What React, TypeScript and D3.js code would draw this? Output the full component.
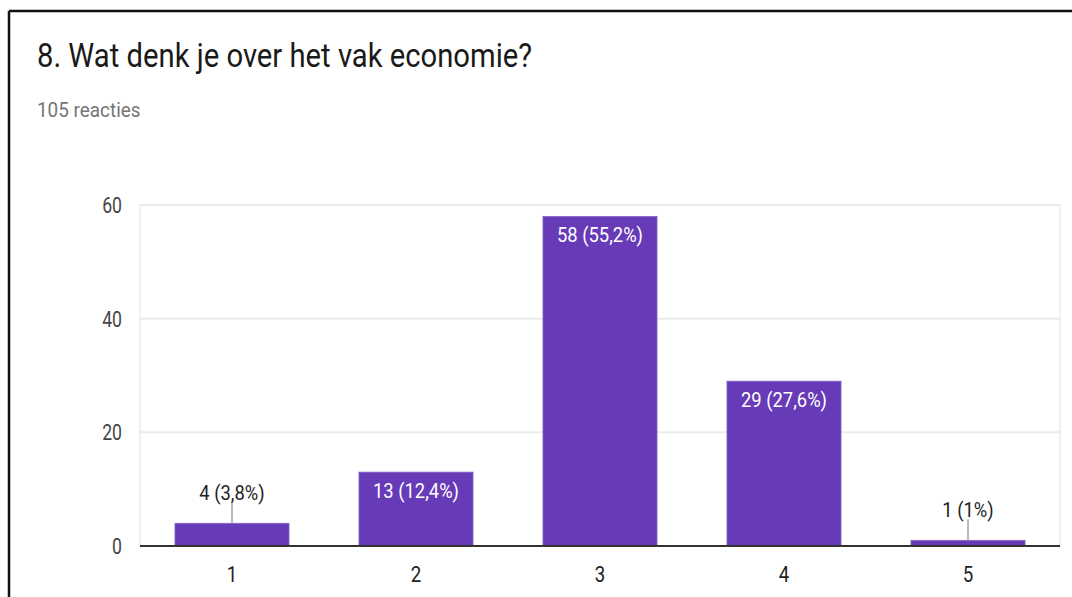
import React from "react";
import * as d3 from "d3";

const categories = ["1", "2", "3", "4", "5"];
const counts = [4, 13, 58, 29, 1];
const percentLabels = ["3,8%", "12,4%", "55,2%", "27,6%", "1%"];
const yTicks = [0, 20, 40, 60];
const title = "8. Wat denk je over het vak economie?";
const subtitle = "105 reacties";

const W = 1072;
const H = 597;
const FONT = "Roboto, 'Noto Sans', Arial, sans-serif";

export default function App() {
  const left = 140;
  const right = 1060;
  const top = 205;
  const bottom = 546;

  const x = d3.scaleBand<string>().domain(categories).range([left, right]).paddingInner(0.38).paddingOuter(0.19);
  const y = d3.scaleLinear().domain([0, 60]).range([bottom, top]);

  const txt = (
    key: string,
    tx: number,
    ty: number,
    s: string,
    size: number,
    fill: string,
    anchor: "start" | "middle" | "end" = "start",
    sx = 0.8
  ) => (
    <text
      key={key}
      transform={`translate(${tx},${ty}) scale(${sx},1)`}
      fontSize={size}
      fill={fill}
      textAnchor={anchor}
      fontFamily={FONT}
    >
      {s}
    </text>
  );

  return (
    <svg
      width={W}
      height={H}
      style={{ position: "absolute", left: 0, top: 0, background: "#fff" }}
    >
      <rect x={0} y={0} width={W} height={H} fill="#fff" />
      {/* frame */}
      <line x1={9} y1={11} x2={W} y2={11} stroke="#111" strokeWidth={2.5} />
      <line x1={9} y1={11} x2={9} y2={H} stroke="#111" strokeWidth={2.5} />

      {txt("title", 37, 67, title, 34, "#1a1a1a", "start", 0.86)}
      {txt("sub", 37, 117, subtitle, 21, "#757575", "start", 0.9)}

      {/* grid */}
      {yTicks.filter((t) => t > 0).map((t) => (
        <line key={"g" + t} x1={left} x2={right} y1={y(t)} y2={y(t)} stroke="#ebebeb" strokeWidth={2} />
      ))}
      <line x1={left} x2={left} y1={top} y2={bottom} stroke="#ebebeb" strokeWidth={1.5} />
      <line x1={right} x2={right} y1={top} y2={bottom} stroke="#ebebeb" strokeWidth={1.5} />

      {yTicks.map((t) => txt("yt" + t, 122, y(t) + 8, String(t), 22, "#444", "end", 0.8))}

      {/* bars */}
      {categories.map((c, i) => {
        const bx = x(c)!;
        const bw = x.bandwidth();
        const by = y(counts[i]);
        const bh = bottom - by;
        const cx = bx + bw / 2;
        const label = `${counts[i]} (${percentLabels[i]})`;
        const inside = bh > 40;
        return (
          <g key={"b" + c}>
            <rect x={bx} y={by} width={bw} height={bh} fill="#673ab7" stroke="#8a67c9" strokeWidth={0.8} />
            {inside
              ? txt("l" + c, cx, by + 26, label, 20, "#ffffff", "middle", 0.92)
              : [
                  <line key="ll" x1={cx} x2={cx} y1={by - 21} y2={Math.min(by + 1, bottom - 3)} stroke="#777" strokeWidth={1} />,
                  txt("l" + c, cx, by - 23, label, 20, "#222", "middle", 0.92),
                ]}
            {txt("x" + c, cx, 582, c, 22, "#222", "middle", 0.85)}
          </g>
        );
      })}

      <line x1={left} x2={right} y1={bottom} y2={bottom} stroke="#333" strokeWidth={2} />
    </svg>
  );
}
